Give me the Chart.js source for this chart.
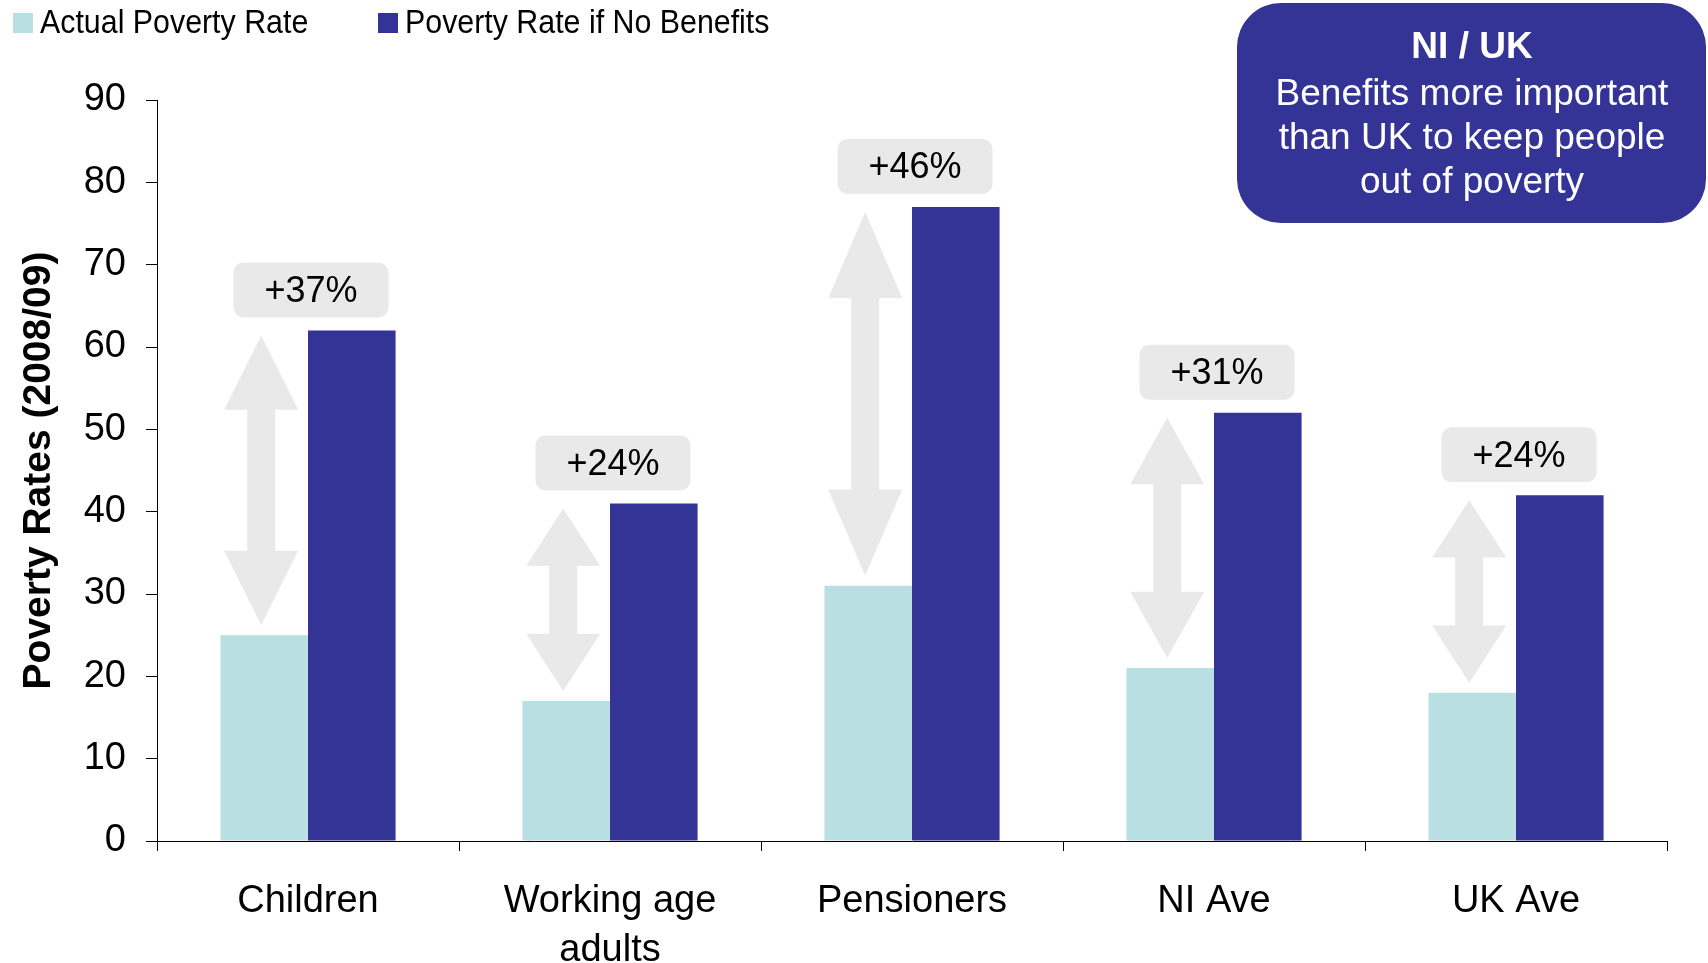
<!DOCTYPE html>
<html>
<head>
<meta charset="utf-8">
<script src="https://cdn.jsdelivr.net/npm/chart.js@4.4.1/dist/chart.umd.min.js"></script>
<style>
html, body { margin: 0; padding: 0; background: #fff; }
canvas { display: block; }
</style>
</head>
<body>
<canvas id="povertyChart" width="1708" height="963"></canvas>
<script>
// Poverty rates 2008/09 - actual vs. if no benefits were paid
const categories = [['Children'], ['Working age', 'adults'], ['Pensioners'], ['NI Ave'], ['UK Ave']];
const actualRate = [25, 17, 31, 21, 18];
const noBenefitsRate = [62, 41, 77, 52, 42];
const gapLabels = ['+37%', '+24%', '+46%', '+31%', '+24%'];
const seriesNames = ['Actual Poverty Rate', 'Poverty Rate if No Benefits'];
const calloutLines = ['NI / UK', 'Benefits more important', 'than UK to keep people', 'out of poverty'];

const LIGHT = '#b9dfe2';
const DARK = '#343497';
const GREY = '#e9e9e9';
const FONT = '"Liberation Sans", Arial, sans-serif';

// double headed arrow between the two bars of a group
function drawUpDownArrow(ctx, cx, top, bottom) {
    const len = bottom - top;
    const headW = 74, shaftW = 28;
    const headH = Math.min(0.16 * len + 28, len / 2);
    ctx.beginPath();
    ctx.moveTo(cx, top);
    ctx.lineTo(cx + headW / 2, top + headH);
    ctx.lineTo(cx + shaftW / 2, top + headH);
    ctx.lineTo(cx + shaftW / 2, bottom - headH);
    ctx.lineTo(cx + headW / 2, bottom - headH);
    ctx.lineTo(cx, bottom);
    ctx.lineTo(cx - headW / 2, bottom - headH);
    ctx.lineTo(cx - shaftW / 2, bottom - headH);
    ctx.lineTo(cx - shaftW / 2, top + headH);
    ctx.lineTo(cx - headW / 2, top + headH);
    ctx.closePath();
    ctx.fill();
}

const annotations = {
    id: 'annotations',
    afterDatasetsDraw(chart) {
        const ctx = chart.ctx;
        const x = chart.scales.x, y = chart.scales.y;
        const lightBars = chart.getDatasetMeta(0).data;
        ctx.save();
        ctx.fillStyle = GREY;
        categories.forEach((c, i) => {
            const top = y.getPixelForValue(noBenefitsRate[i]) + 5;
            const bottom = y.getPixelForValue(actualRate[i]) - 10;
            drawUpDownArrow(ctx, lightBars[i].x - 3, top, bottom);
        });
        // percentage boxes
        categories.forEach((c, i) => {
            const cx = x.getPixelForValue(i) + 3;
            const bottom = y.getPixelForValue(noBenefitsRate[i]) - 13;
            const w = 155, h = 55;
            ctx.fillStyle = GREY;
            ctx.beginPath();
            ctx.roundRect(cx - w / 2, bottom - h, w, h, 10);
            ctx.fill();
            ctx.fillStyle = '#000';
            ctx.font = '36px ' + FONT;
            ctx.textAlign = 'center';
            ctx.textBaseline = 'middle';
            ctx.fillText(gapLabels[i], cx, bottom - h / 2 + 2);
        });
        ctx.restore();
    },
    afterDraw(chart) {
        const ctx = chart.ctx;
        ctx.save();
        // legend, slightly condensed like the original
        const items = chart.data.datasets;
        const starts = [13, 378];
        items.forEach((ds, i) => {
            ctx.fillStyle = ds.backgroundColor;
            ctx.fillRect(starts[i], 13, 20, 20);
            ctx.save();
            ctx.translate(starts[i] + 27, 24);
            ctx.scale(0.92, 1);
            ctx.fillStyle = '#000';
            ctx.font = '33px ' + FONT;
            ctx.textAlign = 'left';
            ctx.textBaseline = 'middle';
            ctx.fillText(ds.label, 0, 0);
            ctx.restore();
        });
        // call-out box
        ctx.fillStyle = DARK;
        ctx.beginPath();
        ctx.roundRect(1237, 3, 469, 220, 44);
        ctx.fill();
        ctx.fillStyle = '#fff';
        ctx.textAlign = 'center';
        ctx.textBaseline = 'middle';
        const lineY = [48, 95, 139, 183];
        calloutLines.forEach((t, i) => {
            ctx.font = (i === 0 ? 'bold ' : '') + '37px ' + FONT;
            ctx.fillText(t, 1472, lineY[i]);
        });
        ctx.restore();
    }
};

const ctx = document.getElementById('povertyChart').getContext('2d');

new Chart(ctx, {
    type: 'bar',
    data: {
        labels: categories,
        datasets: [{
            label: seriesNames[0],
            data: actualRate,
            backgroundColor: LIGHT,
            borderWidth: 0
        }, {
            label: seriesNames[1],
            data: noBenefitsRate,
            backgroundColor: DARK,
            borderWidth: 0
        }]
    },
    options: {
        responsive: false,
        animation: false,
        layout: {
            padding: { top: 100, left: 0, right: 41, bottom: 0 }
        },
        datasets: {
            bar: { categoryPercentage: 0.58, barPercentage: 1.0 }
        },
        scales: {
            x: {
                grid: { drawOnChartArea: false, color: '#000', tickLength: 10, offset: true },
                border: { color: '#000', width: 1 },
                ticks: {
                    color: '#000',
                    padding: 26,
                    font: { family: FONT, size: 38, lineHeight: 1.29 }
                },
                afterFit(axis) { axis.height = 122; }
            },
            y: {
                min: 0,
                max: 90,
                grid: { drawOnChartArea: false, color: '#000', tickLength: 11 },
                border: { color: '#000', width: 1 },
                ticks: {
                    stepSize: 10,
                    color: '#000',
                    padding: 20,
                    font: { family: FONT, size: 38 }
                },
                title: {
                    display: true,
                    text: 'Poverty Rates (2008/09)',
                    color: '#000',
                    padding: { top: 16, bottom: 0 },
                    font: { family: FONT, size: 39, weight: 'bold' }
                },
                afterFit(axis) { axis.width = 157; }
            }
        },
        plugins: {
            legend: { display: false },
            tooltip: { enabled: false }
        }
    },
    plugins: [annotations]
});
</script>
</body>
</html>
